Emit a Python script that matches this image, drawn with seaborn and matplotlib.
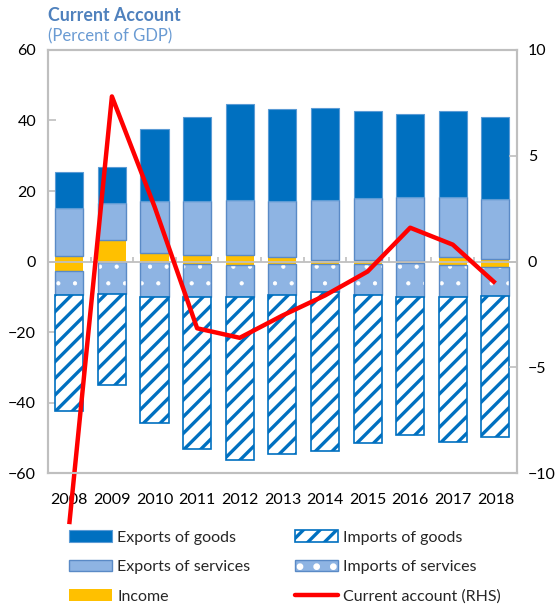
import numpy as np
import pandas as pd
import matplotlib
matplotlib.use("Agg")
import matplotlib.pyplot as plt
import seaborn as sns
from matplotlib.lines import Line2D

# ---------------- data ----------------
years = ["2008", "2009", "2010", "2011", "2012", "2013", "2014", "2015", "2016", "2017", "2018"]
exports_goods = [10.0, 10.0, 20.4, 23.8, 27.1, 26.1, 26.0, 24.7, 23.5, 24.4, 23.2]
exports_services = [13.8, 10.5, 14.9, 15.4, 15.6, 15.7, 17.0, 17.5, 18.1, 17.1, 17.0]
income_credit = [1.5, 6.2, 2.3, 1.8, 1.9, 1.4, 0.5, 0.5, 0.3, 1.2, 0.8]
income_debit = [-2.8, 0.0, 0.0, -0.7, -1.1, -0.7, -0.7, -0.7, -0.5, -1.1, -1.6]
imports_services = [-6.6, -9.2, -9.9, -9.2, -8.8, -8.8, -8.0, -8.7, -9.4, -8.8, -8.1]
imports_goods = [-32.9, -25.8, -35.9, -43.3, -46.3, -44.9, -44.9, -42.1, -39.3, -41.2, -39.9]
current_account = [-12.4, 7.8, 2.6, -3.15, -3.6, -2.55, -1.6, -0.47, 1.6, 0.8, -1.02]

left_ticks = [-60, -40, -20, 0, 20, 40, 60]
right_ticks = [-10, -5, 0, 5, 10]

# ---------------- style ----------------
sns.set_theme(style="white")
plt.rcParams["font.family"] = ["Lato", "DejaVu Sans"]
plt.rcParams["hatch.linewidth"] = 2.4

C_GOODS = "#0070C0"
C_SERV = "#8EB4E3"
C_SERV_EDGE = "#5A8AC6"
C_INC = "#FFC000"
C_RED = "#FF0000"
C_GRID = "#BFBFBF"
C_TITLE = "#4F81BD"

df = pd.DataFrame({
    "year": years,
    "eg": exports_goods, "es": exports_services,
    "ic": income_credit, "id": income_debit,
    "is": imports_services, "ig": imports_goods,
    "ca": current_account,
})
n = len(df)
W = 0.66

fig = plt.figure(figsize=(5.58, 6.08), dpi=100)
ax = fig.add_axes([0.086, 0.2215, 0.840, 0.6965])

def bars(col, bottom, **kw):
    sns.barplot(data=df, x="year", y=col, bottom=bottom, ax=ax, width=W,
                saturation=1, errorbar=None, **kw)
    return ax.containers[-1]

# positive side
b_ic = bars("ic", np.zeros(n), color=C_INC, edgecolor=C_INC, linewidth=0)
b_es = bars("es", df["ic"].values, color=C_SERV, edgecolor=C_SERV_EDGE, linewidth=1)
b_eg = bars("eg", (df["ic"] + df["es"]).values, color=C_GOODS, edgecolor="#5B9BD5", linewidth=0.8)
# negative side
b_id = bars("id", np.zeros(n), color=C_INC, edgecolor=C_INC, linewidth=0)
b_is = bars("is", df["id"].values, color=C_SERV, edgecolor="white", linewidth=0, hatch=".")
for p in b_is:
    if hasattr(p, "set_hatch_linewidth"):
        p.set_hatch_linewidth(0.6)
b_is_o = bars("is", df["id"].values, color=C_SERV_EDGE, fill=False, linewidth=1)
b_ig = bars("ig", (df["id"] + df["is"]).values, color="white", edgecolor=C_GOODS,
            linewidth=1.2, hatch="//")

ax.set_ylim(-60, 60)
ax.set_xlim(-0.5, n - 0.5)
ax.set_yticks(left_ticks)
ax.set_xlabel("")
ax.set_ylabel("")
ax.axhline(0, color=C_GRID, lw=1.3, zorder=5)
ax.vlines(np.arange(n + 1) - 0.5, 0, 1.2, color=C_GRID, lw=1.2, zorder=5)

ax.tick_params(axis="y", direction="in", length=6, width=1.2, color=C_GRID,
               labelsize=11.5, pad=8.5, labelcolor="black")
ax.tick_params(axis="x", length=0, labelsize=11.5, pad=14.5, labelcolor="black")
for s in ax.spines.values():
    s.set_color(C_GRID)
    s.set_linewidth(1.5)

# right axis
ax2 = ax.twinx()
sns.lineplot(data=df, x="year", y="ca", ax=ax2, color=C_RED, lw=3.2, clip_on=False,
             sort=False)
ax2.set_ylim(-10, 10)
ax2.set_yticks(right_ticks)
ax2.set_ylabel("")
ax2.tick_params(axis="y", direction="in", length=6, width=1.2, color=C_GRID,
                labelsize=11.5, pad=8, labelcolor="black")
for s in ax2.spines.values():
    s.set_color(C_GRID)
    s.set_linewidth(1.5)
for ln in ax2.lines:
    ln.set_clip_on(False)
    ln.set_solid_capstyle("butt")

# titles
fig.text(0.086, 0.965, "Current Account", fontsize=12.8, fontweight="bold",
         color=C_TITLE, ha="left", va="baseline")
fig.text(0.086, 0.932, "(Percent of GDP)", fontsize=12, color="#6A9BD3",
         ha="left", va="baseline")

# legend
handles = [b_eg, b_es, b_ic, b_ig, (b_is, b_is_o),
           Line2D([], [], color=C_RED, lw=3.2)]
labels = ["Exports of goods", "Exports of services", "Income",
          "Imports of goods", "Imports of services", "Current account (RHS)"]
leg = fig.legend(handles, labels, ncol=2, loc="upper left",
                 bbox_to_anchor=(0.124, 0.128), frameon=False, fontsize=11.5,
                 handlelength=2.7, handleheight=0.75, handletextpad=0.3,
                 labelspacing=0.95, columnspacing=2.8, borderpad=0, borderaxespad=0)

fig.savefig("out.png", dpi=100)
